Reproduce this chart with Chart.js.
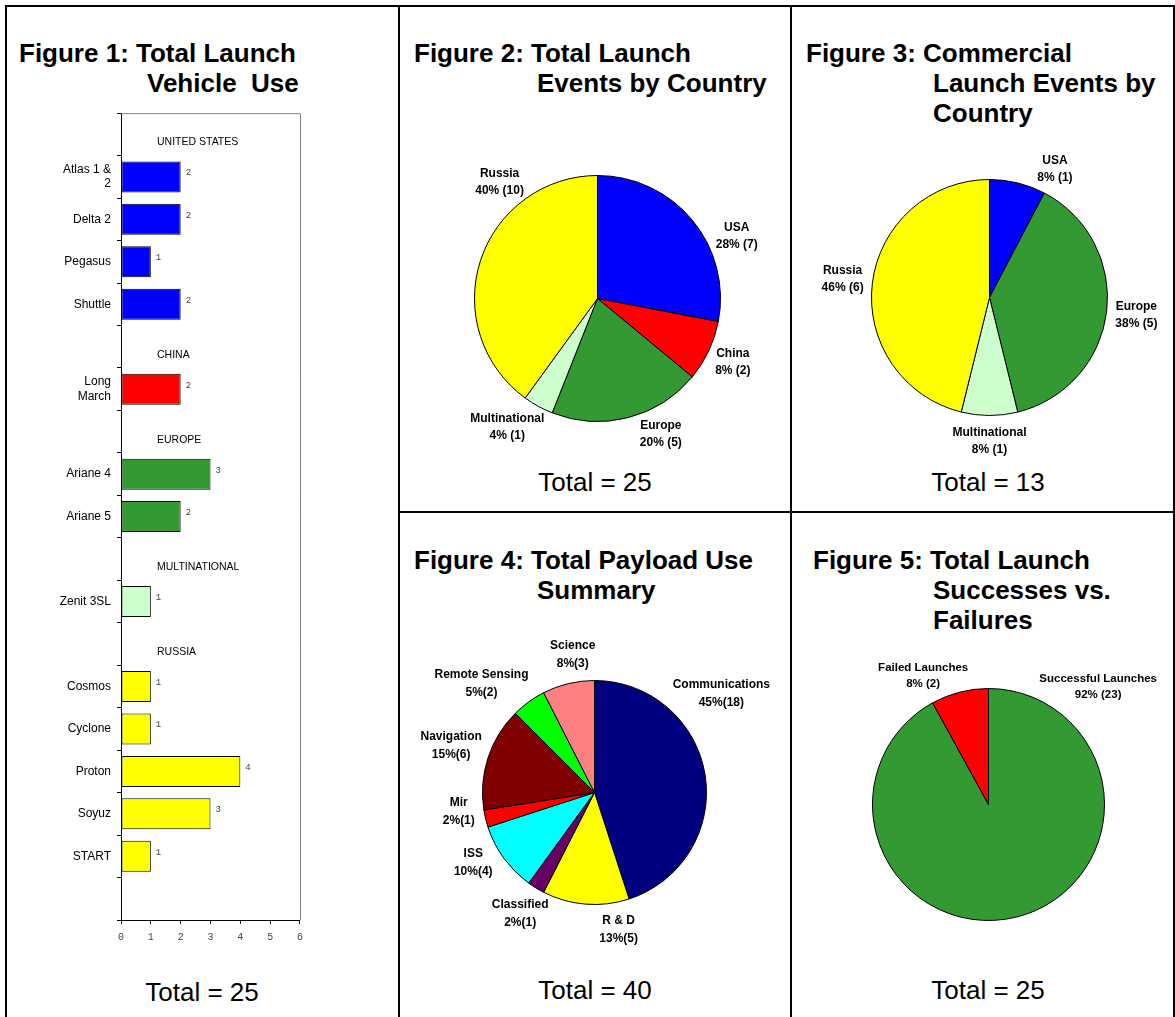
<!DOCTYPE html>
<html>
<head>
<meta charset="utf-8">
<title>Launch summary</title>
<script src="https://cdn.jsdelivr.net/npm/chart.js@4.4.0/dist/chart.umd.min.js"></script>
<style>
  html, body { margin: 0; padding: 0; background: #fff; overflow: hidden; }
  #page { position: relative; width: 1175px; height: 1017px; overflow: hidden; font-family: "Liberation Sans", Arial, sans-serif; color: #000; }
  .rule { position: absolute; background: #000; }
  .title { position: absolute; font-weight: bold; font-size: 26px; line-height: 30px; white-space: nowrap; }
  .title span { display: block; }
  .total { position: absolute; width: 300px; font-size: 26px; line-height: 30px; text-align: center; white-space: nowrap; }
  canvas { position: absolute; }
</style>
</head>
<body>
<div id="page">
  <!-- table rules -->
  <div class="rule" style="left:5px;top:5px;width:1170px;height:2px"></div>
  <div class="rule" style="left:5px;top:5px;width:2px;height:1012px"></div>
  <div class="rule" style="left:398px;top:5px;width:2px;height:1012px"></div>
  <div class="rule" style="left:790px;top:5px;width:2px;height:1012px"></div>
  <div class="rule" style="left:1173px;top:5px;width:2px;height:1012px"></div>
  <div class="rule" style="left:398px;top:511px;width:777px;height:2px"></div>

  <!-- titles -->
  <div class="title" style="left:19px;top:38px"><span>Figure 1: Total Launch</span><span style="padding-left:128px">Vehicle&nbsp; Use</span></div>
  <div class="title" style="left:414px;top:38px"><span>Figure 2: Total Launch</span><span style="padding-left:123px">Events by Country</span></div>
  <div class="title" style="left:806px;top:38px"><span>Figure 3: Commercial</span><span style="padding-left:127px">Launch Events by</span><span style="padding-left:127px">Country</span></div>
  <div class="title" style="left:414px;top:545px"><span>Figure 4: Total Payload Use</span><span style="padding-left:123px">Summary</span></div>
  <div class="title" style="left:813px;top:545px"><span>Figure 5: Total Launch</span><span style="padding-left:120px">Successes vs.</span><span style="padding-left:120px">Failures</span></div>

  <!-- totals -->
  <div class="total" id="total-vehicles" style="left:52px;top:977px"></div>
  <div class="total" id="total-country" style="left:445px;top:467px"></div>
  <div class="total" id="total-commercial" style="left:838px;top:467px"></div>
  <div class="total" id="total-payload" style="left:445px;top:975px"></div>
  <div class="total" id="total-outcome" style="left:838px;top:975px"></div>

  <canvas id="vehicle-chart"></canvas>
  <canvas id="country-chart"></canvas>
  <canvas id="commercial-chart"></canvas>
  <canvas id="payload-chart"></canvas>
  <canvas id="outcome-chart"></canvas>
</div>

<script>
// ----- data -----
const vehicleGroups = ['UNITED STATES', 'CHINA', 'EUROPE', 'MULTINATIONAL', 'RUSSIA'];
const vehicleNames = [['Atlas 1 &', '2'], 'Delta 2', 'Pegasus', 'Shuttle', ['Long', 'March'],
  'Ariane 4', 'Ariane 5', 'Zenit 3SL', 'Cosmos', 'Cyclone', 'Proton', 'Soyuz', 'START'];
const vehicleGroupOf = [0, 0, 0, 0, 1, 2, 2, 3, 4, 4, 4, 4, 4];
const vehicleCounts = [2, 2, 1, 2, 2, 3, 2, 1, 1, 1, 4, 3, 1];
const vehicleTicks = [0, 1, 2, 3, 4, 5, 6];

const countryLabels = ['USA', 'China', 'Europe', 'Multinational', 'Russia'];
const countryEvents = [7, 2, 5, 1, 10];
const countryPct = [28, 8, 20, 4, 40];

const commercialLabels = ['USA', 'Europe', 'Multinational', 'Russia'];
const commercialEvents = [1, 5, 1, 6];
const commercialPct = [8, 38, 8, 46];

const payloadLabels = ['Communications', 'R & D', 'Classified', 'ISS', 'Mir', 'Navigation', 'Remote Sensing', 'Science'];
const payloadCounts = [18, 5, 1, 4, 1, 6, 2, 3];
const payloadPct = [45, 13, 2, 10, 2, 15, 5, 8];

const outcomeLabels = ['Successful Launches', 'Failed Launches'];
const outcomeCounts = [23, 2];
const outcomePct = [92, 8];

// ----- styles -----
const groupColors = ['#0000ff', '#ff0000', '#339933', '#ccffcc', '#ffff00'];
const countryColors = ['#0000ff', '#ff0000', '#339933', '#ccffcc', '#ffff00'];
const commercialColors = ['#0000ff', '#339933', '#ccffcc', '#ffff00'];
const payloadColors = ['#000080', '#ffff00', '#660066', '#00ffff', '#ff0000', '#800000', '#00ff00', '#ff8080'];
const outcomeColors = ['#339933', '#ff0000'];

Chart.defaults.font.family = '"Liberation Sans", Arial, sans-serif';
Chart.defaults.color = '#000';
Chart.defaults.animation = false;

const sum = arr => arr.reduce((a, b) => a + b, 0);
document.getElementById('total-vehicles').textContent = 'Total = ' + sum(vehicleCounts);
document.getElementById('total-country').textContent = 'Total = ' + sum(countryEvents);
document.getElementById('total-commercial').textContent = 'Total = ' + sum(commercialEvents);
document.getElementById('total-payload').textContent = 'Total = ' + sum(payloadCounts);
document.getElementById('total-outcome').textContent = 'Total = ' + sum(outcomeCounts);

function placeCanvas(id, left, top, width, height) {
  const c = document.getElementById(id);
  c.width = width; c.height = height;
  c.style.left = left + 'px'; c.style.top = top + 'px';
  c.style.width = width + 'px'; c.style.height = height + 'px';
  return c;
}

// ----- Figure 1: bar chart with a blank header slot before each group -----
const barLabels = [], barValues = [], barColors = [], headerSlots = [];
vehicleGroups.forEach((g, gi) => {
  headerSlots.push({ index: barLabels.length, text: g });
  barLabels.push(''); barValues.push(null); barColors.push('#ffffff');
  vehicleNames.forEach((n, i) => {
    if (vehicleGroupOf[i] !== gi) return;
    barLabels.push(n); barValues.push(vehicleCounts[i]); barColors.push(groupColors[gi]);
  });
});
barLabels.push(''); barValues.push(null); barColors.push('#ffffff');

const barExtras = {
  id: 'barExtras',
  afterDraw(chart) {
    const { ctx, chartArea: a, scales: { y } } = chart;
    ctx.save();
    // grey frame on top and right of the plot
    ctx.strokeStyle = '#808080';
    ctx.lineWidth = 1;
    ctx.beginPath();
    ctx.moveTo(a.left, a.top + 0.5);
    ctx.lineTo(a.right + 0.5, a.top + 0.5);
    ctx.lineTo(a.right + 0.5, a.bottom);
    ctx.stroke();
    // group headers
    ctx.fillStyle = '#000';
    ctx.font = '10.5px "Liberation Sans", Arial, sans-serif';
    ctx.textAlign = 'left';
    ctx.textBaseline = 'middle';
    headerSlots.forEach(h => ctx.fillText(h.text, a.left + 36, y.getPixelForValue(h.index) + 8));
    // value labels
    ctx.fillStyle = '#444';
    ctx.font = '9px "Liberation Mono", monospace';
    chart.getDatasetMeta(0).data.forEach((bar, i) => {
      if (barValues[i] == null) return;
      ctx.fillText(String(barValues[i]), bar.x + 5, bar.y - 4);
    });
    ctx.restore();
  }
};

new Chart(placeCanvas('vehicle-chart', 10, 100, 300, 850), {
  type: 'bar',
  data: {
    labels: barLabels,
    datasets: [{
      data: barValues,
      backgroundColor: barColors,
      borderColor: '#000',
      borderWidth: 1,
      borderSkipped: false,
      categoryPercentage: 1,
      barPercentage: 0.73
    }]
  },
  options: {
    indexAxis: 'y',
    responsive: false,
    events: [],
    layout: { padding: { top: 11, right: 8, left: 0, bottom: 0 } },
    plugins: { legend: { display: false }, tooltip: { enabled: false } },
    scales: {
      y: {
        afterFit: s => { s.width = 111; },
        border: { color: '#000', width: 1 },
        grid: { drawOnChartArea: false, drawTicks: true, tickLength: 4, color: '#000' },
        ticks: { padding: 6, font: { size: 12 }, color: '#000', autoSkip: false }
      },
      x: {
        min: vehicleTicks[0],
        max: vehicleTicks[vehicleTicks.length - 1],
        afterFit: s => { s.height = 30; },
        afterBuildTicks: s => { s.ticks = vehicleTicks.map(v => ({ value: v })); },
        border: { color: '#000', width: 1 },
        grid: { drawOnChartArea: false, drawTicks: true, tickLength: 4, color: '#000' },
        ticks: { padding: 7, font: { size: 10, family: '"Liberation Mono", monospace' }, color: '#444', maxRotation: 0 }
      }
    }
  },
  plugins: [barExtras]
});

// ----- Pie charts with labels outside each slice -----
function outsideLabels(cfg) {
  return {
    id: 'outsideLabels',
    afterDatasetsDraw(chart) {
      const { ctx } = chart;
      ctx.save();
      ctx.font = cfg.font;
      ctx.fillStyle = '#000';
      ctx.textAlign = 'center';
      ctx.textBaseline = 'middle';
      chart.getDatasetMeta(0).data.forEach((arc, i) => {
        const p = arc.getProps(['x', 'y', 'startAngle', 'endAngle', 'outerRadius'], true);
        let ang = (p.startAngle + p.endAngle) / 2;
        if (cfg.angles && cfg.angles[i] != null) ang = (cfg.angles[i] - 90) * Math.PI / 180;
        const lines = [cfg.names[i], cfg.pct[i] + '%' + cfg.sep + '(' + cfg.counts[i] + ')'];
        const w = Math.max(...lines.map(l => ctx.measureText(l).width));
        const h = lines.length * cfg.lineHeight;
        const c = Math.cos(ang), s = Math.sin(ang);
        // push the label box out along the slice direction until it clears the rim
        const d = p.outerRadius + cfg.gap + Math.hypot(c * w / 2, s * h / 2);
        const lx = p.x + c * d, ly = p.y + s * d;
        lines.forEach((l, k) => ctx.fillText(l, lx, ly + (k - (lines.length - 1) / 2) * cfg.lineHeight));
      });
      ctx.restore();
    }
  };
}

function makePie(id, cx, cy, r, names, counts, pct, colors, labelCfg) {
  const pad = 95;
  const size = 2 * (r + pad) + 1;
  const canvas = placeCanvas(id, cx - r - pad, cy - r - pad, size, size);
  return new Chart(canvas, {
    type: 'pie',
    data: {
      labels: names,
      datasets: [{
        data: counts,
        backgroundColor: colors,
        borderColor: '#000',
        borderWidth: 1,
        hoverOffset: 0
      }]
    },
    options: {
      responsive: false,
      events: [],
      layout: { padding: pad },
      plugins: { legend: { display: false }, tooltip: { enabled: false } }
    },
    plugins: [outsideLabels(Object.assign({ names, counts, pct, gap: 9 }, labelCfg))]
  });
}

const boldLabel = 'bold 12px "Liberation Sans", Arial, sans-serif';

makePie('country-chart', 597, 298, 123, countryLabels, countryEvents, countryPct, countryColors,
  { font: boldLabel, lineHeight: 17, sep: ' ', angles: { 0: 66, 2: 155, 3: 215, 4: 320 } });

makePie('commercial-chart', 989, 297, 118, commercialLabels, commercialEvents, commercialPct, commercialColors,
  { font: boldLabel, lineHeight: 17, sep: ' ', angles: { 0: 27 } });

makePie('payload-chart', 594, 792, 112, payloadLabels, payloadCounts, payloadPct, payloadColors,
  { font: boldLabel, lineHeight: 18, sep: '', angles: { 0: 52, 1: 170, 3: 240, 4: 262, 6: 314, 7: 351 } });

makePie('outcome-chart', 988, 804, 116, outcomeLabels, outcomeCounts, outcomePct, outcomeColors,
  { font: 'bold 11.5px "Liberation Sans", Arial, sans-serif', lineHeight: 16, sep: ' ', gap: 3, angles: { 0: 43, 1: 333 } });
</script>
</body>
</html>
